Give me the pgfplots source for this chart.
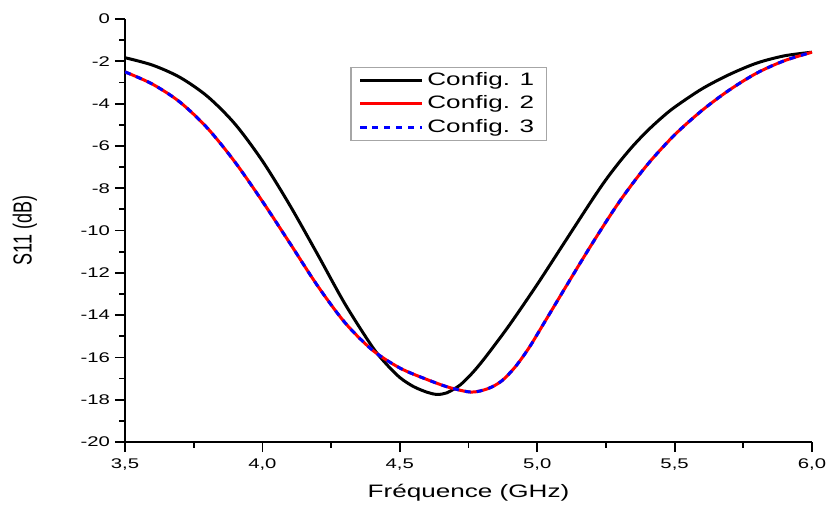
\documentclass[border=0pt]{standalone}
\usepackage{fontspec}
\setmainfont{Liberation Sans}[FakeStretch=1.45]
\newfontfamily\ylabfont{Liberation Sans}
\usepackage{graphicx}
\usepackage{pgfplots}
\pgfplotsset{compat=1.18}

\begin{document}
\begin{tikzpicture}
\begin{axis}[
    name=ax,
    scale only axis,
    width=343.5pt, height=211.5pt,
    xmin=3.5, xmax=6.0,
    ymin=-20, ymax=0,
    xtick={3.5,4.0,4.5,5.0,5.5,6.0},
    ytick={-20,-18,...,0},
    minor x tick num=1,
    minor y tick num=1,
    axis lines=left,
    axis line style={-, line width=1pt},
    tick align=outside,
    major tick length=5pt,
    minor tick length=2.8pt,
    every tick/.style={black, line width=0.9pt},
    /pgf/number format/assume math mode=true,
    xticklabel style={inner xsep=0pt, /pgf/number format/.cd, fixed, fixed zerofill, precision=1, use comma},
    tick label style={font=\fontsize{7}{8}\selectfont},
    yticklabel style={xshift=1pt},
    xlabel={Fréquence (GHz)},
    ylabel={\ylabfont\scalebox{1}[1.45]{S11 (dB)}},
    every axis x label/.style={at={(axis description cs:0.5,-0.1206)}, anchor=center,
        font=\fontsize{9}{11}\selectfont},
    every axis y label/.style={at={(axis description cs:-0.1456,0.5)}, rotate=90, anchor=center,
        font=\fontsize{9}{11}\selectfont},
    legend style={at={(axis description cs:0.328,0.887)}, anchor=north west,
        draw=gray!70, line width=0.6pt, font=\fontsize{9}{11}\selectfont,
        row sep=0pt, nodes={inner ysep=1.9pt}, inner xsep=4pt, inner ysep=0.5pt},
    legend cell align=left,
    legend image code/.code={\draw[#1] plot coordinates {(0cm,0cm) (1.08cm,0cm)};},
]
\addplot[black, line width=1.5pt, smooth] coordinates {
(3.50,-1.83)(3.60,-2.18)(3.70,-2.76)(3.80,-3.66)(3.90,-4.96)(4.00,-6.71)
(4.10,-8.81)(4.20,-11.11)(4.30,-13.46)(4.40,-15.50)(4.45,-16.30)(4.50,-16.95)
(4.55,-17.38)(4.60,-17.65)(4.635,-17.75)(4.67,-17.68)(4.72,-17.30)(4.77,-16.65)
(4.82,-15.85)(4.90,-14.45)(5.00,-12.55)(5.10,-10.55)(5.20,-8.55)(5.25,-7.60)
(5.30,-6.75)(5.35,-5.98)(5.40,-5.30)(5.45,-4.70)(5.50,-4.17)(5.60,-3.30)
(5.70,-2.62)(5.80,-2.08)(5.90,-1.74)(6.00,-1.57)
};
\addlegendentry{Config. 1}

\addplot[red, line width=1.5pt, smooth] coordinates {
(3.50,-2.50)(3.60,-3.08)(3.70,-3.93)(3.80,-5.16)(3.90,-6.76)(4.00,-8.62)
(4.10,-10.60)(4.20,-12.60)(4.30,-14.35)(4.40,-15.65)(4.50,-16.50)(4.60,-17.05)
(4.68,-17.42)(4.76,-17.64)(4.82,-17.48)(4.87,-17.12)(4.92,-16.45)(4.97,-15.55)
(5.02,-14.48)(5.10,-12.75)(5.20,-10.62)(5.30,-8.62)(5.40,-6.90)(5.50,-5.48)
(5.60,-4.32)(5.70,-3.35)(5.80,-2.55)(5.90,-1.97)(6.00,-1.57)
};
\addlegendentry{Config. 2}

\addplot[blue, line width=1.5pt, smooth, dash pattern=on 3pt off 3pt] coordinates {
(3.50,-2.50)(3.60,-3.08)(3.70,-3.93)(3.80,-5.16)(3.90,-6.76)(4.00,-8.62)
(4.10,-10.60)(4.20,-12.60)(4.30,-14.35)(4.40,-15.65)(4.50,-16.50)(4.60,-17.05)
(4.68,-17.42)(4.76,-17.64)(4.82,-17.48)(4.87,-17.12)(4.92,-16.45)(4.97,-15.55)
(5.02,-14.48)(5.10,-12.75)(5.20,-10.62)(5.30,-8.62)(5.40,-6.90)(5.50,-5.48)
(5.60,-4.32)(5.70,-3.35)(5.80,-2.55)(5.90,-1.97)(6.00,-1.57)
};
\addlegendentry{Config. 3}
\end{axis}
\path (ax.south west) ++(-62.5pt,-32.5pt) rectangle ([shift={(8.5pt,9.5pt)}]ax.north east);
\end{tikzpicture}
\end{document}
